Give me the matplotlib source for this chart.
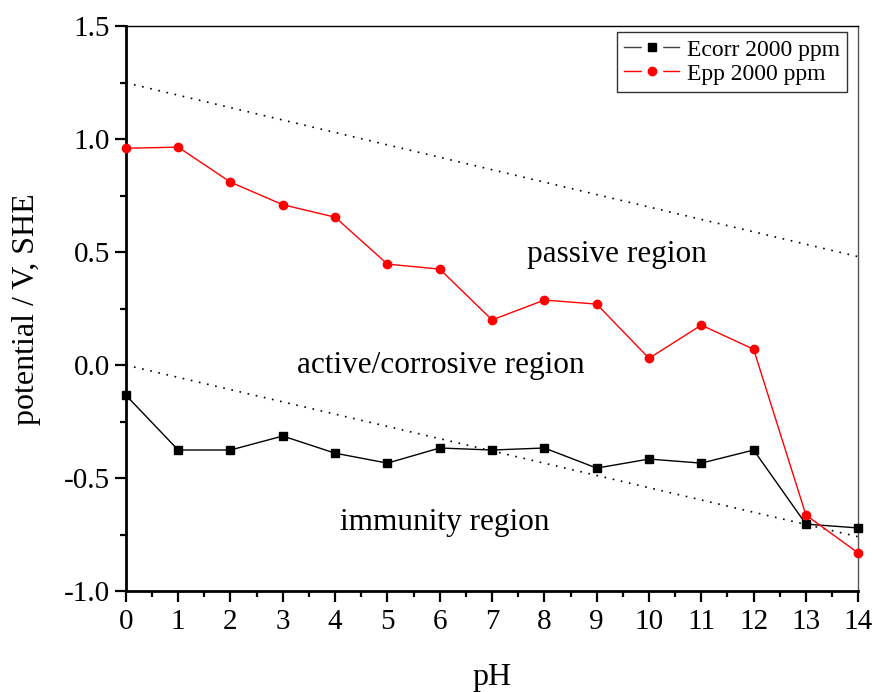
import matplotlib
matplotlib.use("Agg")
import matplotlib.pyplot as plt
from matplotlib.lines import Line2D
from matplotlib.legend_handler import HandlerTuple
from matplotlib.ticker import MultipleLocator, FormatStrFormatter

plt.rcParams["font.family"] = ["Liberation Serif", "DejaVu Serif"]
plt.rcParams["axes.unicode_minus"] = False

ph = [0, 1, 2, 3, 4, 5, 6, 7, 8, 9, 10, 11, 12, 13, 14]
ecorr = [-0.133, -0.376, -0.376, -0.314, -0.390, -0.434, -0.367, -0.376,
         -0.367, -0.456, -0.416, -0.434, -0.376, -0.704, -0.721]
epp = [0.960, 0.965, 0.810, 0.710, 0.655, 0.447, 0.425, 0.200,
       0.288, 0.270, 0.030, 0.177, 0.070, -0.664, -0.832]

upper_ph = [0, 14]
upper_e = [1.25, 0.48]
lower_ph = [0, 14]
lower_e = [0.0, -0.76]

fig = plt.figure(figsize=(8.74, 6.92), dpi=100)
ax = fig.add_axes([0.144, 0.146, 0.838, 0.816])

ax.plot(upper_ph, upper_e, color="black", lw=1.2, ls=(0, (1, 4)))
ax.plot(lower_ph, lower_e, color="black", lw=1.2, ls=(0, (1, 4)))
ax.plot(ph, ecorr, color="black", lw=1.0, marker="s", ms=6,
        clip_on=False, zorder=3)
ax.plot(ph, epp, color="red", lw=1.0, marker="o", ms=6,
        clip_on=False, zorder=3)

ax.text(9.39, 0.49, "passive region", ha="center", va="center", fontsize=22.5)
ax.text(6.02, 0.0, "active/corrosive region", ha="center", va="center", fontsize=22.5)
ax.text(6.1, -0.695, "immunity region", ha="center", va="center", fontsize=22.5)

ax.set_xlim(0, 14)
ax.set_ylim(-1.0, 1.5)
ax.xaxis.set_major_locator(MultipleLocator(1))
ax.xaxis.set_minor_locator(MultipleLocator(0.5))
ax.yaxis.set_major_locator(MultipleLocator(0.5))
ax.yaxis.set_minor_locator(MultipleLocator(0.25))
ax.yaxis.set_major_formatter(FormatStrFormatter("%.1f"))
ax.tick_params(which="major", direction="out", length=8, width=1.6,
               labelsize=21, top=False, right=False)
ax.tick_params(which="minor", direction="out", length=4, width=1.6,
               top=False, right=False)
ax.tick_params(axis="x", pad=5)

for side in ["left", "bottom"]:
    ax.spines[side].set_linewidth(2.0)
ax.spines["top"].set_linewidth(1.0)
ax.spines["right"].set_linewidth(1.0)
ax.spines["right"].set_color("#555555")

ax.set_xlabel("pH", fontsize=23)
ax.set_ylabel("potential / V, SHE", fontsize=23)
ax.xaxis.label.set_va("center")
ax.yaxis.label.set_va("center")
ax.xaxis.set_label_coords(0.5, -0.154)
ax.yaxis.set_label_coords(-0.135, 0.5)

# legend proxies: line broken around the marker (white patch under marker)
gap = Line2D([], [], color="white", ls="none", marker="s", ms=15)
h_ecorr = (Line2D([], [], color="#444444", lw=1.0), gap,
           Line2D([], [], color="black", ls="none", marker="s", ms=6))
h_epp = (Line2D([], [], color="red", lw=1.0), gap,
         Line2D([], [], color="red", ls="none", marker="o", ms=6))
leg = ax.legend([h_ecorr, h_epp], ["Ecorr 2000 ppm", "Epp 2000 ppm"],
                handler_map={tuple: HandlerTuple(ndivide=1)},
                loc="upper right", bbox_to_anchor=(847 / 874, 1 - 32 / 692),
                bbox_transform=fig.transFigure, borderaxespad=0,
                fontsize=17, frameon=True, fancybox=False,
                edgecolor="black", handlelength=2.3, borderpad=0.3,
                labelspacing=0.1, handletextpad=0.35)
leg.get_frame().set_linewidth(1.0)

fig.savefig("out.png", dpi=100)
